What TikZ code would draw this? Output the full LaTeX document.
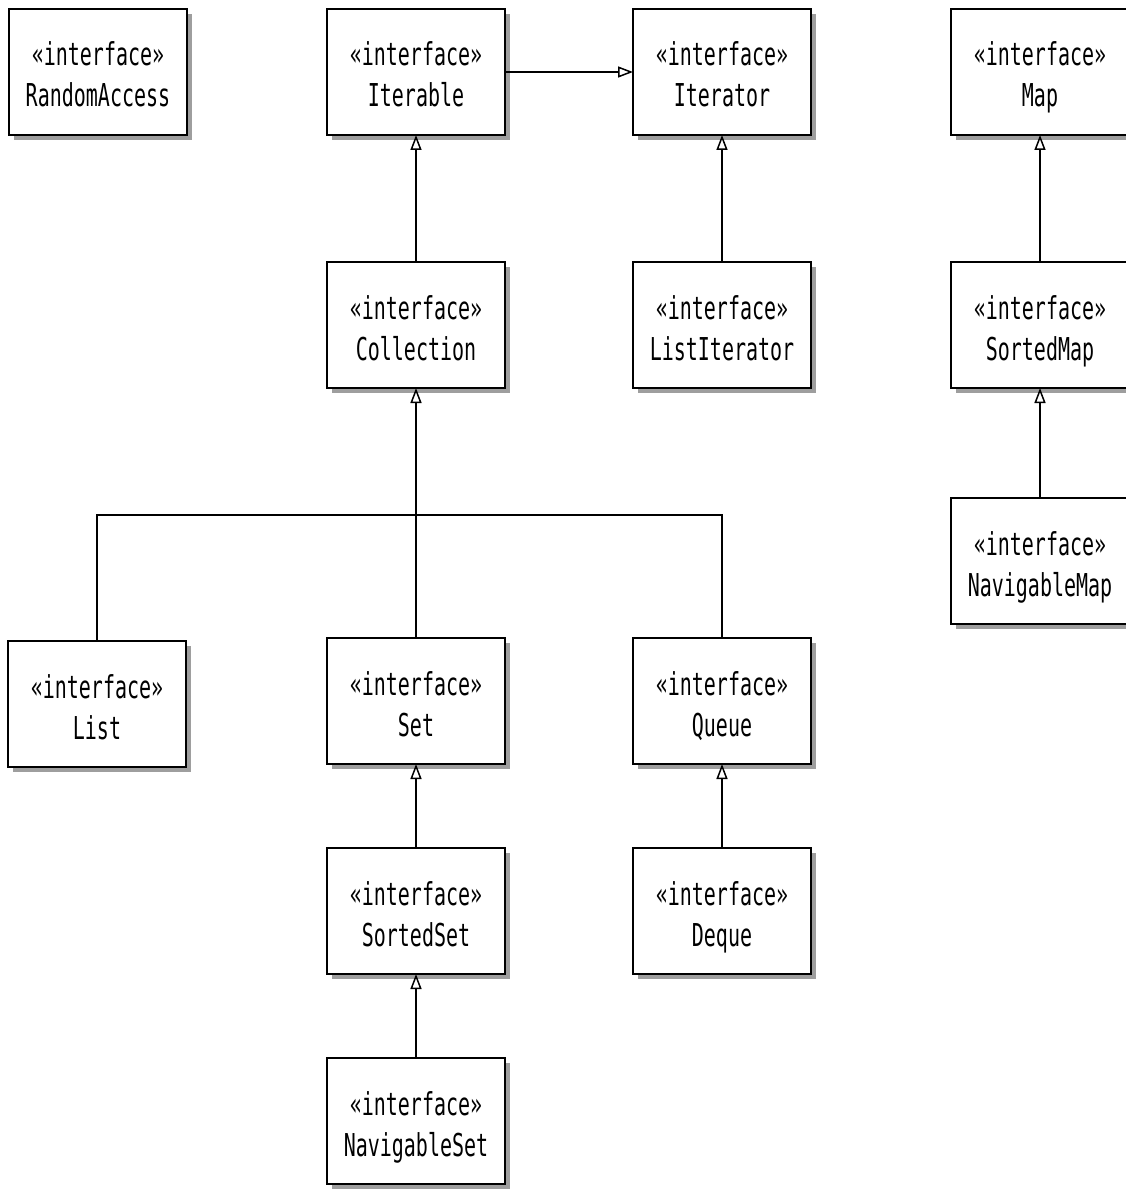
\documentclass[tikz,border=0pt]{standalone}
\usepackage{fontspec}
\newfontfamily\umlfont[FakeStretch=0.635]{DejaVu Sans Mono}
\usetikzlibrary{arrows.meta}
\begin{document}
\begin{tikzpicture}[x=1pt,y=-1pt,
  ifbox/.style={draw=black, line width=2pt, fill=white, minimum width=178pt,
    minimum height=126pt, inner sep=0pt, outer sep=0pt},
  ifshadow/.style={fill=black!38, draw=none},
  iftext/.style={font=\umlfont\fontsize{31.5}{31.5}\selectfont, anchor=base,
    inner sep=0pt, text=black},
  gen/.style={line width=1.5pt,
    -{Triangle[open, length=15pt, width=11pt, line width=1.5pt]}},
  conn/.style={line width=1.5pt}]

% interface box: name, centre x, centre y, type name
\newcommand\iface[4]{%
  \fill[ifshadow] (#2-84,#3-58) rectangle (#2+94,#3+68);
  \node[ifbox] (#1) at (#2,#3) {};
  \node[iftext] (#1-s) at (#2,#3-6) {«interface»};
  \node[iftext] (#1-n) at (#2,#3+35) {#4};
}

\useasboundingbox (0,0) rectangle (1125,1190);
\fill[white] (0,0) rectangle (1125,1190);

\iface{ra}{98}{72}{RandomAccess}
\iface{it}{416}{72}{Iterable}
\iface{itr}{722}{72}{Iterator}
\iface{map}{1040}{72}{Map}
\iface{coll}{416}{325}{Collection}
\iface{litr}{722}{325}{ListIterator}
\iface{smap}{1040}{325}{SortedMap}
\iface{nmap}{1040}{561}{NavigableMap}
\iface{list}{97}{704}{List}
\iface{set}{416}{701}{Set}
\iface{queue}{722}{701}{Queue}
\iface{sset}{416}{911}{SortedSet}
\iface{deque}{722}{911}{Deque}
\iface{nset}{416}{1121}{NavigableSet}

% generalisation arrows
\draw[gen] (it.east) -- (itr.west);
\draw[gen] (coll.north) -- (it.south);
\draw[gen] (litr.north) -- (itr.south);
\draw[gen] (smap.north) -- (map.south);
\draw[gen] (nmap.north) -- (smap.south);
\coordinate (bus) at (416,515);
\draw[conn] (list.north) |- (bus) -| (queue.north);
\draw[gen] (set.north) -- (coll.south);
\draw[gen] (sset.north) -- (set.south);
\draw[gen] (nset.north) -- (sset.south);
\draw[gen] (deque.north) -- (queue.south);
\end{tikzpicture}
\end{document}
